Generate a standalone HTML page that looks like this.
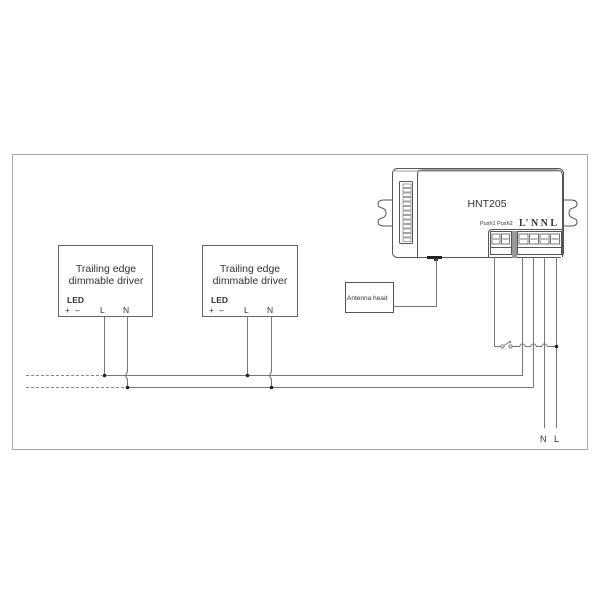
<!DOCTYPE html>
<html><head><meta charset="utf-8"><style>
html,body{margin:0;padding:0;background:#fff;}
svg{display:block;}
text{font-family:"Liberation Sans",sans-serif;fill:#333;}
</style></head><body>
<svg width="600" height="600" viewBox="0 0 600 600" xmlns="http://www.w3.org/2000/svg">
<!-- frame -->
<rect x="12.5" y="154.5" width="575" height="295" fill="none" stroke="#aaa" stroke-width="1"/>

<!-- HNT205 device -->
<g stroke="#555" fill="#fff" stroke-width="1">
  <!-- ears -->
  <path d="M392,200 L384,200 Q378,200 378,204 Q378,207 382,208 Q386,209 386,213 Q386,217 382,218 Q378,219 378,222 Q378,226 384,226 L392,226"/>
  <path d="M563,200 L571,200 Q577,200 577,204 Q577,207 573,208 Q569,209 569,213 Q569,217 573,218 Q577,219 577,222 Q577,226 571,226 L563,226"/>
  <rect x="392.5" y="168.5" width="171" height="89" rx="5"/>
  <path d="M417.5,257 L417.5,175 Q417.5,170 422,170 L556,170 Q562.5,170 562.5,176 L562.5,254" fill="none"/>
  <line x1="393" y1="171" x2="562" y2="171" stroke="#999"/>
  <!-- dip strip -->
  <rect x="399.5" y="181.5" width="13" height="62" rx="1"/>
</g>
<g stroke="#666" fill="none" stroke-width="0.6">
  <rect x="403" y="184" width="8" height="3.5"/><rect x="403" y="188.5" width="8" height="3.5"/>
  <rect x="403" y="193" width="8" height="3.5"/><rect x="403" y="197.5" width="8" height="3.5"/>
  <rect x="403" y="202" width="8" height="3.5"/><rect x="403" y="206.5" width="8" height="3.5"/>
  <rect x="403" y="211" width="8" height="3.5"/><rect x="403" y="215.5" width="8" height="3.5"/>
  <rect x="403" y="220" width="8" height="3.5"/><rect x="403" y="224.5" width="8" height="3.5"/>
  <rect x="403" y="229" width="8" height="3.5"/><rect x="403" y="233.5" width="8" height="3.5"/>
  <rect x="403" y="238" width="8" height="3.5"/>
</g>
<!-- antenna connector -->
<rect x="427" y="256" width="15" height="3" fill="#222"/>
<rect x="434" y="258" width="4" height="3" fill="#333"/>

<text x="487" y="207" font-size="10.5" text-anchor="middle" fill="#333">HNT205</text>
<text x="480" y="225" font-size="5.5" fill="#444">Push1 Push2</text>
<text x="519" y="226" font-size="10" font-weight="bold" font-family="Liberation Serif,serif" fill="#333" style="font-family:'Liberation Serif',serif">L' N N L</text>

<!-- terminal block -->
<g stroke="#555" fill="#fff" stroke-width="1">
  <path d="M488.5,257 L488.5,233 Q488.5,229.5 492,229.5 L562.5,229.5 L562.5,257"/>
  <rect x="490.5" y="231.5" width="21" height="23" fill="#fff"/>
  <rect x="517.5" y="231.5" width="44" height="23" fill="#fff"/>
  <line x1="490.5" y1="247.5" x2="511.5" y2="247.5"/>
  <line x1="517.5" y1="247.5" x2="561.5" y2="247.5"/>
</g>
<rect x="512" y="231" width="5" height="27" fill="#999"/>
<g stroke="#555" fill="none" stroke-width="0.8">
  <rect x="492" y="234" width="8" height="10"/><rect x="501.5" y="234" width="8" height="10"/>
  <rect x="519" y="234" width="9" height="10"/><rect x="529.5" y="234" width="9" height="10"/>
  <rect x="540" y="234" width="9" height="10"/><rect x="550.5" y="234" width="9" height="10"/>
  <line x1="493" y1="239" x2="499" y2="239"/><line x1="502.5" y1="239" x2="508.5" y2="239"/>
  <line x1="520" y1="239" x2="527" y2="239"/><line x1="530.5" y1="239" x2="537.5" y2="239"/>
  <line x1="541" y1="239" x2="548" y2="239"/><line x1="551.5" y1="239" x2="558.5" y2="239"/>
</g>

<!-- antenna head -->
<rect x="345.5" y="282.5" width="48" height="30" fill="#fff" stroke="#555"/>
<text x="347" y="300" font-size="6.5" fill="#333">Antenna head</text>
<polyline points="393,306.5 436.5,306.5 436.5,260" fill="none" stroke="#777"/>

<!-- drivers -->
<g stroke="#666" fill="#fff">
  <rect x="58.5" y="245.5" width="94" height="71"/>
  <rect x="202.5" y="245.5" width="95" height="71"/>
</g>
<g font-size="10.5" text-anchor="middle" fill="#333">
  <text x="106" y="272">Trailing edge</text>
  <text x="106" y="284">dimmable driver</text>
  <text x="250" y="272">Trailing edge</text>
  <text x="250" y="284">dimmable driver</text>
</g>
<g font-size="8.5" fill="#333">
  <text x="67" y="303" font-weight="bold">LED</text>
  <text x="65" y="313">+</text><text x="75" y="313">–</text>
  <text x="100" y="313">L</text><text x="123" y="313">N</text>
  <text x="211" y="303" font-weight="bold">LED</text>
  <text x="209" y="313">+</text><text x="219" y="313">–</text>
  <text x="244" y="313">L</text><text x="267" y="313">N</text>
</g>

<!-- wires -->
<g stroke="#777" fill="none" stroke-width="1">
  <!-- dashed -->
  <line x1="26" y1="375.5" x2="102" y2="375.5" stroke-dasharray="3,2" stroke="#888"/>
  <line x1="26" y1="387.5" x2="126" y2="387.5" stroke-dasharray="3,2" stroke="#888"/>
  <!-- bus L' -->
  <polyline points="104,375.5 522.5,375.5 522.5,257"/>
  <!-- bus N -->
  <polyline points="128,387.5 533.5,387.5 533.5,257"/>
  <!-- driver 1 -->
  <line x1="104.5" y1="316" x2="104.5" y2="375"/>
  <path d="M127.5,316 L127.5,372 Q124,375.5 127.5,379 L127.5,387"/>
  <!-- driver 2 -->
  <line x1="247.5" y1="316" x2="247.5" y2="375"/>
  <path d="M271.5,316 L271.5,372 Q268,375.5 271.5,379 L271.5,387"/>
  <!-- push wire -->
  <polyline points="494.5,257 494.5,346.5 501,346.5"/>
  <!-- switch -->
  <line x1="504" y1="345.5" x2="511" y2="341"/>
  <line x1="509" y1="341" x2="511" y2="343"/>
  <path d="M512,346.5 L519.5,346.5 Q522.5,341 525.5,346.5 L530.5,346.5 Q533.5,341 536.5,346.5 L541.5,346.5 Q544.5,341 547.5,346.5 L556,346.5"/>
  <!-- N L supply -->
  <line x1="544.5" y1="257" x2="544.5" y2="428"/>
  <line x1="556.5" y1="257" x2="556.5" y2="428"/>
</g>
<circle cx="502.5" cy="346.5" r="1.6" fill="#fff" stroke="#666" stroke-width="0.8"/>
<circle cx="510.5" cy="346.5" r="1.6" fill="#fff" stroke="#666" stroke-width="0.8"/>
<g fill="#222">
  <circle cx="104.5" cy="375.5" r="1.8"/>
  <circle cx="127.5" cy="387.5" r="1.8"/>
  <circle cx="247.5" cy="375.5" r="1.8"/>
  <circle cx="271.5" cy="387.5" r="1.8"/>
  <circle cx="556.5" cy="346.5" r="1.8"/>
</g>
<text x="540" y="442" font-size="9" fill="#333">N</text>
<text x="554" y="442" font-size="9" fill="#333">L</text>
</svg>
</body></html>
